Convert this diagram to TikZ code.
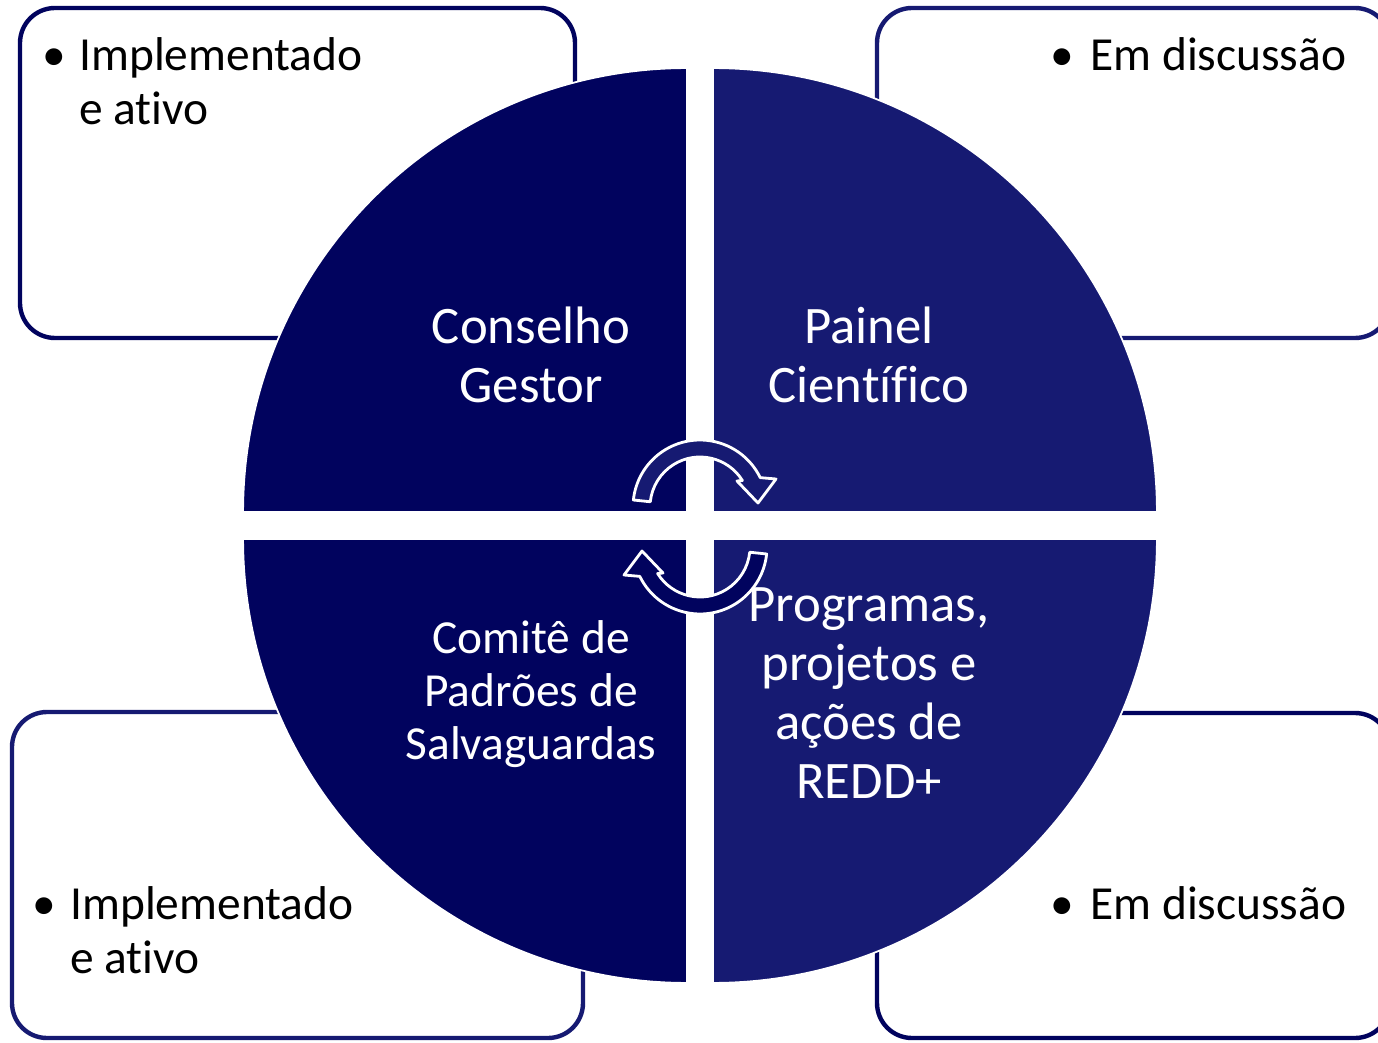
\documentclass[tikz,border=0pt]{standalone}
\usepackage{fontspec}
\setmainfont{Carlito}[Ligatures={NoCommon}]
\definecolor{navyA}{RGB}{1,3,94}
\definecolor{navyB}{RGB}{22,26,114}
\newcommand\bul[1]{\makebox[#1][l]{\textbullet}}
\begin{document}
\begin{tikzpicture}[x=0.02cm,y=0.02cm,
  box/.style={rounded corners=0.7cm, line width=2.5pt, fill=white},
  quad/.style={draw=white, line width=1pt},
  qtext/.style={text=white, align=center, font=\fontsize{30}{33.5}\selectfont, inner sep=0},
  btext/.style={text=black, align=left, anchor=west, font=\fontsize{27}{30.7}\selectfont, inner sep=0},
  cyc/.style={draw=white, line width=1.6pt, line join=round}]
\useasboundingbox (0,0) rectangle (1378,1042);
\clip (0,0) rectangle (1378,1042);
% outer boxes
\draw[box, draw=navyA] (20,704) rectangle (575,1034);
\draw[box, draw=navyB] (877,704) rectangle (1390,1034);
\draw[box, draw=navyB] (12,4) rectangle (583,330);
\draw[box, draw=navyA] (877,4) rectangle (1390,329);
% quadrants
\filldraw[quad, fill=navyA] (687,530) -- ++(-8.88cm,0) arc[start angle=180,end angle=90,radius=8.88cm] -- cycle;
\filldraw[quad, fill=navyB] (713,530) -- ++(0,8.88cm) arc[start angle=90,end angle=0,radius=8.88cm] -- cycle;
\filldraw[quad, fill=navyA] (687,503) -- ++(-8.88cm,0) arc[start angle=180,end angle=270,radius=8.88cm] -- cycle;
\filldraw[quad, fill=navyB] (713,503) -- ++(0,-8.88cm) arc[start angle=270,end angle=360,radius=8.88cm] -- cycle;
% cycle arrows
\filldraw[cyc, fill=navyB] (700,535) ++(174:1.34cm) arc[start angle=174,end angle=26,radius=1.34cm] -- (776,563) -- (758,539) -- (737,561) -- (742.4,561.5) arc[start angle=32,end angle=174,radius=1cm] -- cycle;
\begin{scope}[rotate around={180:(700,515)}]
\filldraw[cyc, fill=navyA] (700,535) ++(174:1.34cm) arc[start angle=174,end angle=26,radius=1.34cm] -- (776,563) -- (758,539) -- (737,561) -- (742.4,561.5) arc[start angle=32,end angle=174,radius=1cm] -- cycle;
\end{scope}
% quadrant texts
\node[qtext] (cg) at (531,687) {Conselho\\Gestor};
\node[qtext] (pc) at (869,687) {Painel\\Científico};
\node[qtext, font=\fontsize{27}{30.2}\selectfont] (cp) at (531,348) {Comitê de\\Padrões de\\Salvaguardas};
\node[qtext] (pp) at (869,349) {Programas,\\projetos e\\ações de\\REDD+};
% box texts
\node[btext] (t1) at (42,961) {\bul{0.74cm}Implementado\\\hspace*{0.74cm}e ativo};
\node[btext] (t2) at (1050,988) {\bul{0.8cm}Em discussão};
\node[btext] (t3) at (32,112) {\bul{0.76cm}Implementado\\\hspace*{0.76cm}e ativo};
\node[btext] (t4) at (1050,139) {\bul{0.8cm}Em discussão};
\end{tikzpicture}
\end{document}
